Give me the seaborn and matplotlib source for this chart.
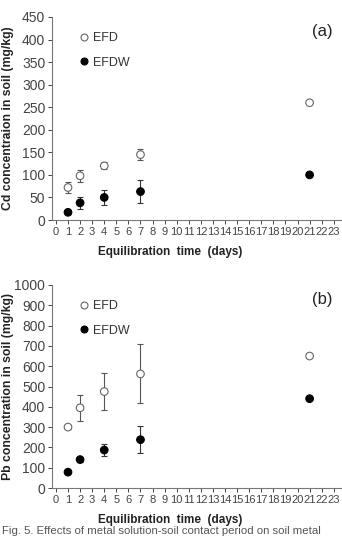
import numpy as np
import pandas as pd
import matplotlib
matplotlib.use("Agg")
import matplotlib.pyplot as plt
from matplotlib.lines import Line2D
import seaborn as sns

days = [1, 2, 4, 7, 21]

cd_efd = [72, 98, 120, 145, 260]
cd_efd_err = [13, 13, 8, 12, 0]
cd_efdw = [17, 38, 50, 63, 100]
cd_efdw_err = [3, 14, 17, 25, 0]

pb_efd = [300, 395, 475, 562, 650]
pb_efd_err = [8, 65, 90, 145, 0]
pb_efdw = [78, 140, 187, 238, 440]
pb_efdw_err = [6, 10, 30, 68, 0]

x_ticks = list(range(0, 24))
cd_ticks = list(range(0, 451, 50))
pb_ticks = list(range(0, 1001, 100))

sns.set_style("ticks")
plt.rcParams['font.family'] = ['Liberation Sans', 'DejaVu Sans']

W, H = 342, 541
fig = plt.figure(figsize=(W / 100, H / 100), dpi=100)


def px_axes(left, top, right, bottom):
    return fig.add_axes([left / W, 1 - bottom / H, (right - left) / W, (bottom - top) / H])


def draw_panel(ax, efd, efd_err, efdw, efdw_err, yticks, ylabel, tag):
    df = pd.DataFrame({"day": days * 2,
                       "conc": efd + efdw,
                       "series": ["EFD"] * len(days) + ["EFDW"] * len(days)})
    ax.errorbar(days, efd, yerr=efd_err, fmt="none", ecolor="#555555",
                elinewidth=0.8, capsize=2, capthick=0.8, zorder=1)
    ax.errorbar(days, efdw, yerr=efdw_err, fmt="none", ecolor="#333333",
                elinewidth=0.8, capsize=2, capthick=0.8, zorder=1)
    sns.scatterplot(data=df, x="day", y="conc", hue="series",
                    palette={"EFD": "white", "EFDW": "black"},
                    s=30, linewidth=0.8, ax=ax, zorder=3, legend=False)
    # open markers: white face, gray edge
    coll = ax.collections[-1]
    coll.set_facecolors(["white" if s == "EFD" else "black" for s in df["series"]])
    coll.set_edgecolors(["#666666" if s == "EFD" else "black" for s in df["series"]])

    ax.set_xlim(-0.3, 23.6)
    ax.set_ylim(yticks[0], yticks[-1])
    ax.set_xticks(x_ticks)
    ax.set_yticks(yticks)
    ax.tick_params(axis="x", labelsize=8, colors="#444444", length=3, width=0.7, pad=2)
    ax.tick_params(axis="y", labelsize=10, colors="#444444", length=3, width=0.7, pad=2)
    for sp in ["left", "bottom"]:
        ax.spines[sp].set_color("#777777")
        ax.spines[sp].set_linewidth(0.8)
    sns.despine(ax=ax)

    ax.set_xlabel("Equilibration  time  (days)", fontsize=8.5, fontweight="bold",
                  color="#222222", va="center")
    ax.xaxis.set_label_coords(0.41, -0.158)
    ax.set_ylabel(ylabel, fontsize=8.8, fontweight="bold", color="#222222")
    ax.yaxis.set_label_coords(-0.132, 0.5)

    handles = [Line2D([], [], marker="o", ls="none", mfc="white", mec="#666666", ms=5, mew=0.8),
               Line2D([], [], marker="o", ls="none", mfc="black", mec="black", ms=5, mew=0.8)]
    ax.legend(handles, ["EFD", "EFDW"], loc="upper left", bbox_to_anchor=(0.05, 0.98),
              frameon=False, fontsize=9, labelspacing=1.0, handletextpad=0.2,
              handlelength=1.0, labelcolor="#333333")
    ax.text(0.935, 0.93, tag, transform=ax.transAxes, fontsize=12,
            ha="center", va="center", color="#222222")


ax1 = px_axes(52.3, 17, 341, 220)
draw_panel(ax1, cd_efd, cd_efd_err, cd_efdw, cd_efdw_err, cd_ticks,
           "Cd concentraion in soil (mg/kg)", "(a)")

ax2 = px_axes(52.3, 285, 341, 488)
draw_panel(ax2, pb_efd, pb_efd_err, pb_efdw, pb_efdw_err, pb_ticks,
           "Pb concentration in soil (mg/kg)", "(b)")

fig.text(2 / W, 1 - 531 / H, "Fig. 5. Effects of metal solution-soil contact period on soil metal",
         fontsize=8.2, color="#555555", ha="left", va="center")

fig.savefig("out.png", dpi=100)
